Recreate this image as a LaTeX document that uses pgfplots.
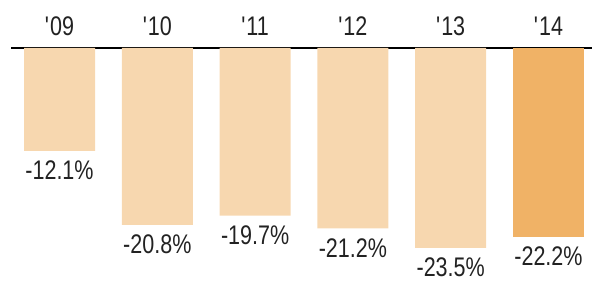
\documentclass[border=0pt]{standalone}
\usepackage{pgfplots}
\pgfplotsset{compat=1.18}
\usepackage{fontspec}
\setmainfont[FakeStretch=0.8]{Liberation Sans}
\definecolor{lightbar}{RGB}{247,215,175}
\definecolor{darkbar}{RGB}{240,178,102}
\definecolor{txt}{RGB}{34,34,34}
\begin{document}
\begin{tikzpicture}
\begin{axis}[
  scale only axis,
  width=581bp, height=234bp,
  xmin=-0.496, xmax=5.445,
  ymin=-27.5, ymax=0,
  axis x line=top,
  axis y line=none,
  axis line style={-, line width=2.2bp, black},
  xtick={0,1,2,3,4,5},
  xticklabels={\textquotesingle09,\textquotesingle10,\textquotesingle11,\textquotesingle12,\textquotesingle13,\textquotesingle14},
  major tick length=0pt,
  xticklabel style={anchor=south, inner sep=0pt, yshift=12bp, font=\fontsize{27}{30}\selectfont, text=txt},
  ybar, bar width=71bp, bar shift=0pt,
  point meta=explicit symbolic,
  nodes near coords={\pgfplotspointmeta\%},
  every node near coord/.style={anchor=north, inner sep=0pt, yshift=-10bp, font=\fontsize{27}{30}\selectfont, text=txt},
  clip=false,
]
\addplot[fill=lightbar, draw=none] coordinates {
  (0,-12.1) [-12.1]
  (1,-20.8) [-20.8]
  (2,-19.7) [-19.7]
  (3,-21.2) [-21.2]
  (4,-23.5) [-23.5]
};
\addplot[fill=darkbar, draw=none] coordinates {
  (5,-22.2) [-22.2]
};
\end{axis}
\pgfresetboundingbox
\path ([xshift=-11bp]current axis.south west) rectangle ([yshift=48bp]current axis.north east);
\end{tikzpicture}
\end{document}
